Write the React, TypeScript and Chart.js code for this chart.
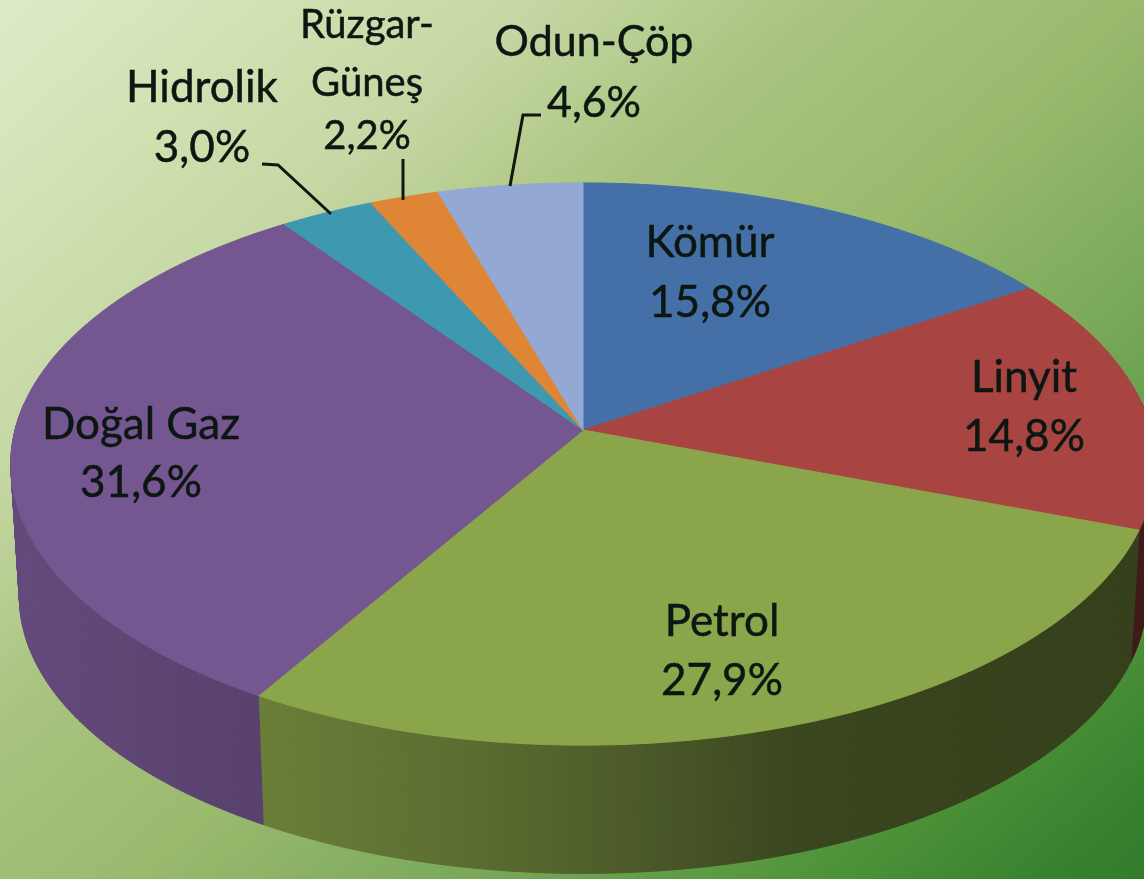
import React, { useEffect, useRef } from "react";
import { Chart, registerables } from "chart.js";

Chart.register(...registerables);

const categories = ["Kömür", "Linyit", "Petrol", "Doğal Gaz", "Hidrolik", "Rüzgar-\nGüneş", "Odun-Çöp"];
const shares = [15.8, 14.8, 27.9, 31.6, 3.0, 2.2, 4.6];
const sliceColors = ["#4570a7", "#a84441", "#8ba64a", "#745690", "#3e99b0", "#df8536", "#93a9d4"];

// label anchor (centre x, middle y of each line, font size), separate from the data
const labelAnchors: [number, number[], number][] = [
  [710, [243, 303], 44],
  [1024, [378, 437], 44],
  [722, [622, 681], 44],
  [141, [425, 483], 44],
  [202, [88, 148], 44],
  [367, [25, 83, 136], 40],
  [594, [42, 103], 43],
];
const leaderLines: [number, number][][] = [
  [[262, 164], [278, 165], [331, 214]],
  [[403, 159], [403, 200]],
  [[541, 115], [523, 115], [510, 186]],
];

// perspective of the tilted disc
const CX = 583, CY = 430, RX = 568, RY = 277, PERSP = 0.121;
const BASE_SCALE = 0.985, DEPTH = 133;
const shadeStops: [number, number][] = [
  [0, 0.86], [0.23, 0.76], [0.4, 0.66], [0.55, 0.55], [0.7, 0.42], [1, 0.38],
];
const backgroundStops: [number, string][] = [
  [0, "#dcebc8"], [0.15, "#cfe0b0"], [0.25, "#c5d7a3"], [0.39, "#a9c37e"],
  [0.53, "#9aba6e"], [0.69, "#78a858"], [0.855, "#4c9238"], [0.96, "#36802e"], [1, "#327c2c"],
];

function project(theta: number, r: number, bottom: boolean): [number, number] {
  const u = Math.sin(theta) * r, v = Math.cos(theta) * r;
  const d = 1 + PERSP * v;
  const s = bottom ? BASE_SCALE : 1;
  return [CX + (s * RX * u) / d, CY - (s * RY * v) / d + (bottom ? DEPTH : 0)];
}

function shade(hex: string, f: number) {
  const n = parseInt(hex.slice(1), 16);
  return `rgb(${((n >> 16) & 255) * f},${((n >> 8) & 255) * f},${(n & 255) * f})`;
}

const disc3d = {
  id: "disc3d",
  beforeDraw(chart: any) {
    const { ctx, width, height } = chart;
    const g = ctx.createLinearGradient(0, 0, 933, 1064);
    backgroundStops.forEach(([p, c]) => g.addColorStop(p, c));
    ctx.fillStyle = g;
    ctx.fillRect(0, 0, width, height);
  },
  beforeDatasetsDraw(chart: any) {
    const { ctx, width } = chart;
    const arcs = chart.getDatasetMeta(0).data;
    const range = (a: any) => {
      const p = a.getProps(["startAngle", "endAngle"], true);
      return [p.startAngle + Math.PI / 2, p.endAngle + Math.PI / 2];
    };
    arcs.forEach((a: any) => {
      const [t0, t1] = range(a);
      const steps = Math.ceil((t1 - t0) / 0.01);
      const g = ctx.createLinearGradient(0, 0, width, 0);
      const base = a.options.backgroundColor;
      shadeStops.forEach(([p, f]) => g.addColorStop(p, shade(base, f)));
      ctx.fillStyle = g;
      ctx.strokeStyle = g;
      ctx.lineWidth = 1;
      for (let i = 0; i < steps; i++) {
        const ta = t0 + ((t1 - t0) * i) / steps, tb = t0 + ((t1 - t0) * (i + 1)) / steps;
        // only the side facing the viewer shows
        if (Math.cos((ta + tb) / 2) > 0.1) continue;
        const q = [project(ta, 1, false), project(tb, 1, false), project(tb, 1, true), project(ta, 1, true)];
        ctx.beginPath();
        q.forEach(([x, y], k) => (k ? ctx.lineTo(x, y) : ctx.moveTo(x, y)));
        ctx.closePath();
        ctx.fill();
        ctx.stroke();
      }
    });
    arcs.forEach((a: any) => {
      const [t0, t1] = range(a);
      const steps = Math.ceil((t1 - t0) / 0.01);
      ctx.beginPath();
      const c = project(0, 0, false);
      ctx.moveTo(c[0], c[1]);
      for (let i = 0; i <= steps; i++) {
        const [x, y] = project(t0 + ((t1 - t0) * i) / steps, 1, false);
        ctx.lineTo(x, y);
      }
      ctx.closePath();
      ctx.fillStyle = a.options.backgroundColor;
      ctx.fill();
      ctx.strokeStyle = a.options.backgroundColor;
      ctx.lineWidth = 1;
      ctx.stroke();
    });
    return false;
  },
  afterDraw(chart: any) {
    const { ctx } = chart;
    const labels = chart.data.labels;
    const values = chart.data.datasets[0].data;
    ctx.strokeStyle = "#10180e";
    ctx.lineWidth = 3;
    leaderLines.forEach((pts) => {
      ctx.beginPath();
      pts.forEach(([x, y], i) => (i ? ctx.lineTo(x, y) : ctx.moveTo(x, y)));
      ctx.stroke();
    });
    ctx.fillStyle = "#0c1712";
    ctx.strokeStyle = "#0c1712";
    ctx.lineWidth = 0.5;
    ctx.textAlign = "center";
    ctx.textBaseline = "middle";
    labels.forEach((label: string, i: number) => {
      const lines = [...label.split("\n"), values[i].toFixed(1).replace(".", ",") + "%"];
      const [x, ys, size] = labelAnchors[i];
      ctx.font = `${size}px Lato, "Open Sans", sans-serif`;
      lines.forEach((t, j) => {
        ctx.fillText(t, x, ys[j]);
        ctx.strokeText(t, x, ys[j]);
      });
    });
  },
};

export default function App() {
  const ref = useRef<HTMLCanvasElement>(null);
  useEffect(() => {
    document.body.style.margin = "0";
    document.body.style.overflow = "hidden";
    const chart = new Chart(ref.current!, {
      type: "pie",
      data: {
        labels: categories,
        datasets: [{ data: shares, backgroundColor: sliceColors, borderWidth: 0 }],
      },
      options: {
        animation: false,
        responsive: false,
        plugins: { legend: { display: false }, tooltip: { enabled: false } },
      },
      plugins: [disc3d],
    } as any);
    return () => chart.destroy();
  }, []);
  return (
    <canvas
      ref={ref}
      width={1144}
      height={879}
      style={{ display: "block", width: 1144, height: 879, filter: "blur(0.7px)" }}
    />
  );
}
